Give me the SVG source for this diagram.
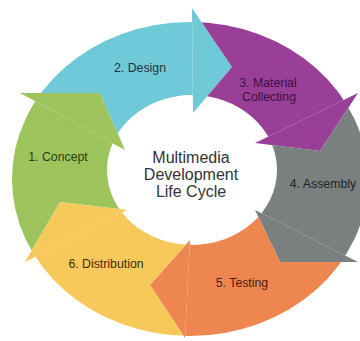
<svg xmlns="http://www.w3.org/2000/svg" width="360" height="341" viewBox="0 0 360 341">
  <defs>
    <!-- band between the outer and inner ellipse; every arc body is cut to it -->
    <clipPath id="ring">
      <path clip-rule="evenodd" d="M12,179 a178,157 0 1,0 356,0 a178,157 0 1,0 -356,0 Z M107,170 a85,75 0 1,0 170,0 a85,75 0 1,0 -170,0 Z"/>
    </clipPath>
    <style>
      .body{clip-path:url(#ring)}
      .lbl{font-family:"Liberation Sans",Arial,sans-serif;font-size:12.3px;text-anchor:middle}
      .title{font-family:"Liberation Sans",Arial,sans-serif;font-size:16px;fill:#333;text-anchor:middle}
      .c1{fill:#9cc35c}.c2{fill:#6fc9d6}.c3{fill:#9a3f98}
      .c4{fill:#7a8080}.c5{fill:#ee8650}.c6{fill:#f7c85a}
    </style>
  </defs>

  <rect width="360" height="341" fill="#fff"/>

  <!-- stages: body notched by the previous arrowhead, then its own arrowhead -->
  <g id="stage-1">
    <polygon class="body c1" points="127,210 60,202 25,262 -100,300 -100,60 20,93 125,150"/>
    <polygon class="c1" points="20,93 100,93 125,150"/>
    <text class="lbl" x="58" y="161" fill="#2f3d14">1. Concept</text>
  </g>
  <g id="stage-2">
    <polygon class="body c2" points="125,150 100,93 20,93 -100,60 -20,-40 192,-40 192,8 193,113"/>
    <polygon class="c2" points="192,8 232,67 193,113"/>
    <text class="lbl" x="140" y="72" fill="#1d3540">2. Design</text>
  </g>
  <g id="stage-3">
    <polygon class="body c3" points="193,113 232,67 192,8 192,-40 420,-40 420,60 358,93 255,143"/>
    <polygon class="c3" points="358,93 320,151 255,143"/>
    <text class="lbl" x="268" y="87" fill="#3d1040">3. Material</text>
    <text class="lbl" x="269" y="101" fill="#3d1040">Collecting</text>
  </g>
  <g id="stage-4">
    <polygon class="body c4" points="255,143 320,151 358,93 420,60 420,300 358,262 255,210"/>
    <polygon class="c4" points="358,262 280,262 255,210"/>
    <text class="lbl" x="323" y="188" fill="#1f2424">4. Assembly</text>
  </g>
  <g id="stage-5">
    <polygon class="body c5" points="255,210 280,262 358,262 420,300 420,420 185,420 185,338 190,240"/>
    <polygon class="c5" points="185,338 150,285 190,240"/>
    <text class="lbl" x="242" y="287" fill="#4a2010">5. Testing</text>
  </g>
  <g id="stage-6">
    <polygon class="body c6" points="190,240 150,285 185,338 185,420 -100,420 -100,300 25,262 127,210"/>
    <polygon class="c6" points="25,262 60,202 127,210"/>
    <text class="lbl" x="106" y="268" fill="#3d2e0a">6. Distribution</text>
  </g>

  <g id="connectors"/>

  <g id="title">
    <text class="title" x="191" y="163">Multimedia</text>
    <text class="title" x="191" y="180">Development</text>
    <text class="title" x="191" y="197">Life Cycle</text>
  </g>
</svg>
